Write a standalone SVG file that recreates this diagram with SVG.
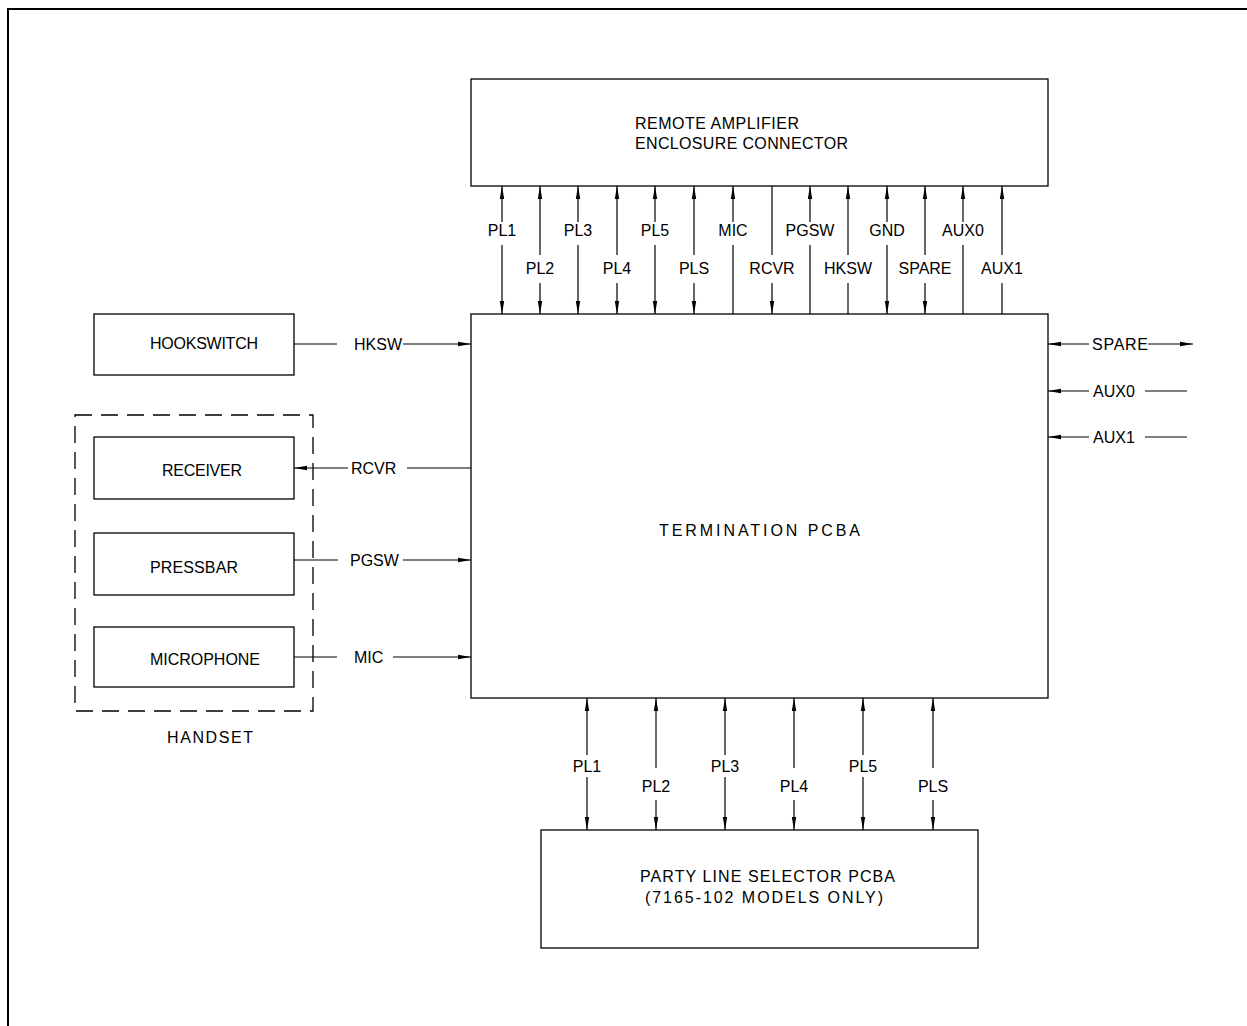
<svg xmlns="http://www.w3.org/2000/svg" width="1247" height="1026" viewBox="0 0 1247 1026">
<style>
text{font-family:"Liberation Sans",Arial,sans-serif;font-size:16px;fill:#000}
.c{text-anchor:middle}
.box{fill:none;stroke:#000;stroke-width:1.3}
.dash{fill:none;stroke:#000;stroke-width:1.3;stroke-dasharray:17 9}
#wires line{stroke:#000;stroke-width:1.2}
.e{marker-end:url(#ah)}
</style>
<defs>
<marker id="ah" viewBox="0 0 13 6" refX="13" refY="3" markerWidth="13" markerHeight="6" markerUnits="userSpaceOnUse" orient="auto">
<path d="M0,0.8 L13,3 L0,5.2 z" fill="#000"/>
</marker>
</defs>
<rect width="1247" height="1026" fill="#fff"/>
<path d="M8,1026 V9 H1247" fill="none" stroke="#000" stroke-width="2"/>

<g id="remote-amp">
<rect class="box" x="471" y="79" width="577" height="107"/>
<text x="635" y="129" textLength="164">REMOTE AMPLIFIER</text>
<text x="635" y="149" textLength="213">ENCLOSURE CONNECTOR</text>
</g>
<g id="termination">
<rect class="box" x="471" y="314" width="577" height="384"/>
<text x="659" y="536" textLength="201">TERMINATION PCBA</text>
</g>
<g id="hookswitch">
<rect class="box" x="94" y="314" width="200" height="61"/>
<text x="150" y="349" textLength="108">HOOKSWITCH</text>
</g>
<g id="handset">
<rect class="dash" x="75" y="415" width="238" height="296"/>
<text x="167" y="743" textLength="86">HANDSET</text>
</g>
<g id="receiver">
<rect class="box" x="94" y="437" width="200" height="62"/>
<text x="162" y="476" textLength="80">RECEIVER</text>
</g>
<g id="pressbar">
<rect class="box" x="94" y="533" width="200" height="62"/>
<text x="150" y="573" textLength="88">PRESSBAR</text>
</g>
<g id="microphone">
<rect class="box" x="94" y="627" width="200" height="60"/>
<text x="150" y="665" textLength="110">MICROPHONE</text>
</g>
<g id="party-line">
<rect class="box" x="541" y="830" width="437" height="118"/>
<text x="640" y="882" textLength="255">PARTY LINE SELECTOR PCBA</text>
<text x="645" y="903" textLength="238">(7165-102 MODELS ONLY)</text>
</g>

<g id="wires">
<!-- top, upper row labels (gap 222-245) -->
<line class="e" x1="502" y1="222" x2="502" y2="186"/><line class="e" x1="502" y1="245" x2="502" y2="314"/>
<line class="e" x1="578" y1="222" x2="578" y2="186"/><line class="e" x1="578" y1="245" x2="578" y2="314"/>
<line class="e" x1="655" y1="222" x2="655" y2="186"/><line class="e" x1="655" y1="245" x2="655" y2="314"/>
<line class="e" x1="733" y1="222" x2="733" y2="186"/><line x1="733" y1="245" x2="733" y2="314"/>
<line class="e" x1="810" y1="222" x2="810" y2="186"/><line x1="810" y1="245" x2="810" y2="314"/>
<line class="e" x1="887" y1="222" x2="887" y2="186"/><line class="e" x1="887" y1="245" x2="887" y2="314"/>
<line class="e" x1="963" y1="222" x2="963" y2="186"/><line x1="963" y1="245" x2="963" y2="314"/>
<!-- top, lower row labels (gap 255-283) -->
<line class="e" x1="540" y1="255" x2="540" y2="186"/><line class="e" x1="540" y1="283" x2="540" y2="314"/>
<line class="e" x1="617" y1="255" x2="617" y2="186"/><line class="e" x1="617" y1="283" x2="617" y2="314"/>
<line class="e" x1="694" y1="255" x2="694" y2="186"/><line class="e" x1="694" y1="283" x2="694" y2="314"/>
<line x1="772" y1="255" x2="772" y2="186"/><line class="e" x1="772" y1="283" x2="772" y2="314"/>
<line class="e" x1="848" y1="255" x2="848" y2="186"/><line x1="848" y1="283" x2="848" y2="314"/>
<line class="e" x1="925" y1="255" x2="925" y2="186"/><line class="e" x1="925" y1="283" x2="925" y2="314"/>
<line class="e" x1="1002" y1="255" x2="1002" y2="186"/><line x1="1002" y1="283" x2="1002" y2="314"/>
<!-- left -->
<line x1="294" y1="344" x2="337" y2="344"/><line class="e" x1="403" y1="344" x2="471" y2="344"/>
<line class="e" x1="348" y1="468" x2="294" y2="468"/><line x1="407" y1="468" x2="471" y2="468"/>
<line x1="294" y1="560" x2="338" y2="560"/><line class="e" x1="403" y1="560" x2="471" y2="560"/>
<line x1="294" y1="657" x2="337" y2="657"/><line class="e" x1="393" y1="657" x2="471" y2="657"/>
<!-- right -->
<line class="e" x1="1089" y1="344" x2="1048" y2="344"/><line class="e" x1="1148" y1="344" x2="1193" y2="344"/>
<line class="e" x1="1089" y1="391" x2="1048" y2="391"/><line x1="1145" y1="391" x2="1187" y2="391"/>
<line class="e" x1="1089" y1="437" x2="1048" y2="437"/><line x1="1145" y1="437" x2="1187" y2="437"/>
<!-- bottom, upper row (gap 755-777) -->
<line class="e" x1="587" y1="755" x2="587" y2="698"/><line class="e" x1="587" y1="777" x2="587" y2="830"/>
<line class="e" x1="725" y1="755" x2="725" y2="698"/><line class="e" x1="725" y1="777" x2="725" y2="830"/>
<line class="e" x1="863" y1="755" x2="863" y2="698"/><line class="e" x1="863" y1="777" x2="863" y2="830"/>
<!-- bottom, lower row (gap 768-800) -->
<line class="e" x1="656" y1="768" x2="656" y2="698"/><line class="e" x1="656" y1="800" x2="656" y2="830"/>
<line class="e" x1="794" y1="768" x2="794" y2="698"/><line class="e" x1="794" y1="800" x2="794" y2="830"/>
<line class="e" x1="933" y1="768" x2="933" y2="698"/><line class="e" x1="933" y1="800" x2="933" y2="830"/>
</g>

<g id="labels">
<text class="c" x="502" y="236">PL1</text>
<text class="c" x="578" y="236">PL3</text>
<text class="c" x="655" y="236">PL5</text>
<text class="c" x="733" y="236">MIC</text>
<text class="c" x="810" y="236">PGSW</text>
<text class="c" x="887" y="236">GND</text>
<text class="c" x="963" y="236">AUX0</text>
<text class="c" x="540" y="274">PL2</text>
<text class="c" x="617" y="274">PL4</text>
<text class="c" x="694" y="274">PLS</text>
<text class="c" x="772" y="274">RCVR</text>
<text class="c" x="848" y="274">HKSW</text>
<text class="c" x="925" y="274">SPARE</text>
<text class="c" x="1002" y="274">AUX1</text>
<text x="354" y="350">HKSW</text>
<text x="351" y="474">RCVR</text>
<text x="350" y="566">PGSW</text>
<text x="354" y="663">MIC</text>
<text x="1092" y="350" textLength="56">SPARE</text>
<text x="1093" y="397">AUX0</text>
<text x="1093" y="443">AUX1</text>
<text class="c" x="587" y="772">PL1</text>
<text class="c" x="725" y="772">PL3</text>
<text class="c" x="863" y="772">PL5</text>
<text class="c" x="656" y="792">PL2</text>
<text class="c" x="794" y="792">PL4</text>
<text class="c" x="933" y="792">PLS</text>
</g>
</svg>
